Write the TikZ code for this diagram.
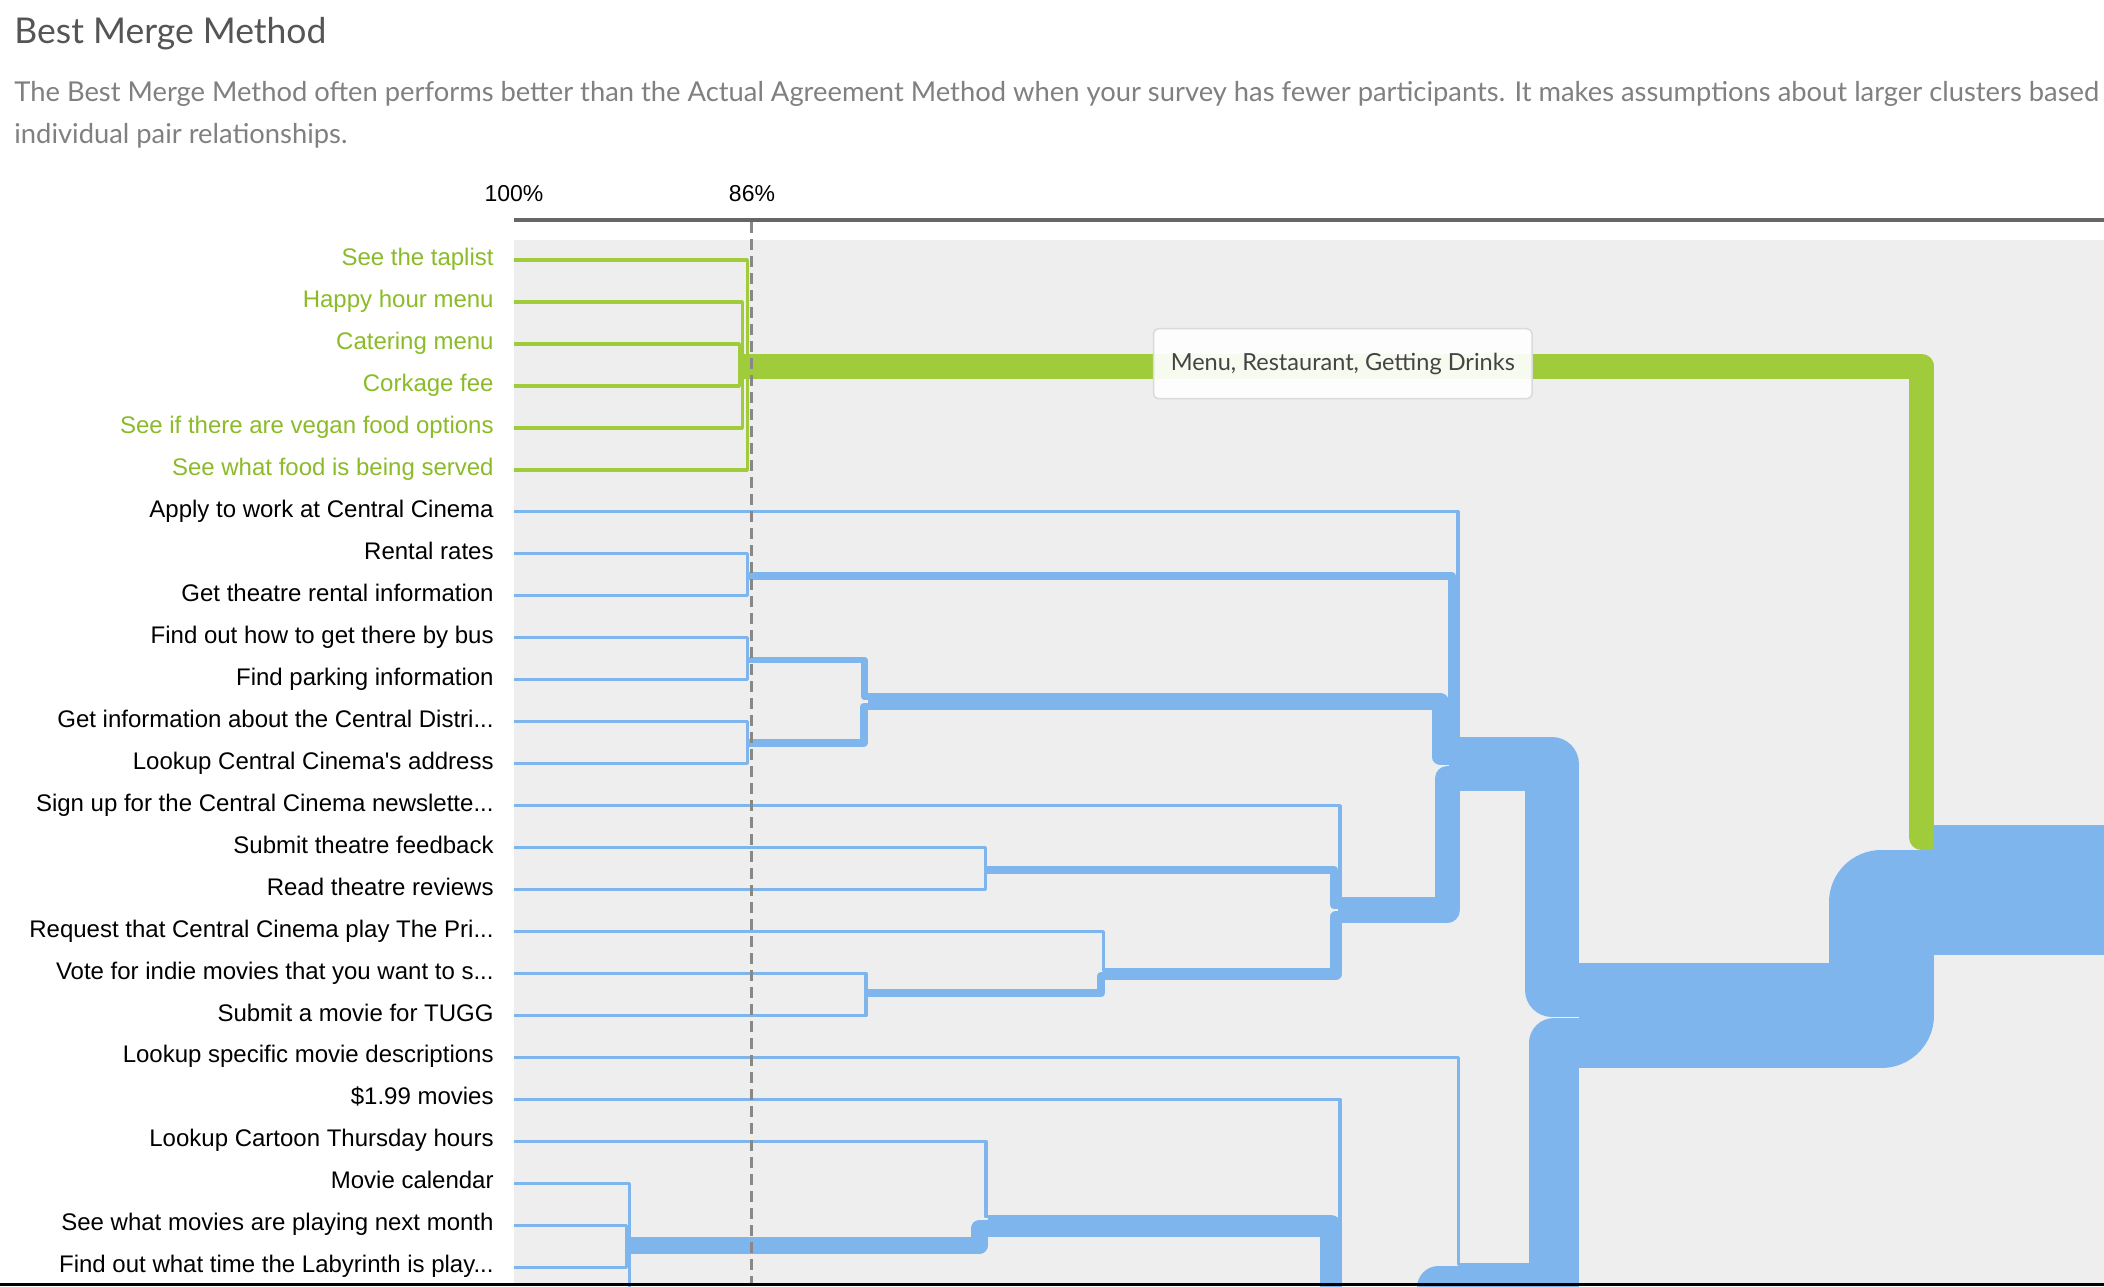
\documentclass[tikz,border=0pt]{standalone}
\usepackage{graphicx}
\usepackage{fontspec}
\setmainfont{Liberation Sans}
\newfontfamily\lato{Lato}
\definecolor{bl}{RGB}{126,181,236}
\definecolor{gr}{RGB}{160,203,58}
\definecolor{grtext}{RGB}{140,187,41}
\definecolor{bggray}{RGB}{238,238,238}
\definecolor{axisgray}{RGB}{102,102,102}
\definecolor{dashgray}{RGB}{136,136,136}
\definecolor{titlegray}{RGB}{85,85,85}
\definecolor{descgray}{RGB}{128,128,128}
\definecolor{boxborder}{RGB}{218,218,218}
\definecolor{boxtext}{RGB}{68,68,68}
\newlength\dw
% link: width, x start, y child, x merge, y slot
\newcommand\lnk[6][bl]{%
  \pgfmathsetmacro\lw{#2*0.5}%
  \pgfmathsetmacro\xv{#5-#2/2}%
  \draw[#1,line width=\lw pt,line join=round] (#3,#4) -- (\xv,#4) -- (\xv,#6) -- (#5,#6);}
\newcommand\leaf[4][bl]{\lnk[#1]{3.3}{514}{#2}{#3}{#4}}
\tikzset{
  lbl/.style={anchor=base east, inner sep=0pt, font=\fontsize{12pt}{14pt}\selectfont, text=black},
  glbl/.style={lbl, text=grtext},
  axlbl/.style={anchor=base, inner sep=0pt, font=\fontsize{11.5pt}{13pt}\selectfont, text=black},
}
\begin{document}
\settowidth\dw{\lato\fontsize{10pt}{12pt}\selectfont individual pair relationships.}%
\pgfmathsetmacro\dsz{10*166.5/\dw}%
\begin{tikzpicture}[x=0.5pt,y=-0.5pt]
\useasboundingbox (0,0) rectangle (2104,1286);
\clip (0,0) rectangle (2104,1286);
\fill[white] (0,0) rectangle (2104,1286);

% title and description
\node[anchor=base west, inner sep=0pt, text=titlegray] (title) at (14,43.3)
  {\resizebox{156pt}{!}{\lato Best Merge Method}};
\node[anchor=base west, inner sep=0pt, text=descgray, font=\lato\fontsize{\dsz pt}{\dsz pt}\selectfont] (desc1) at (14,101.7)
  {The Best Merge Method often performs better than the Actual Agreement Method when your survey has fewer participants. It makes assumptions about larger clusters based};
\node[anchor=base west, inner sep=0pt, text=descgray, font=\lato\fontsize{\dsz pt}{\dsz pt}\selectfont] (desc2) at (14,143.3)
  {individual pair relationships.};

% axis
\node[axlbl] (p100) at (514,201.7) {100\%};
\node[axlbl] (p86) at (752,201.7) {86\%};
\draw[axisgray, line width=2pt] (514,220) -- (2104,220);
\fill[bggray] (514,240) rectangle (2104,1286);

% green cluster
\leaf[gr]{260.0}{749}{366}
\leaf[gr]{302.0}{744}{366}
\leaf[gr]{343.9}{741}{366}
\leaf[gr]{385.9}{741}{366}
\leaf[gr]{427.9}{744}{366}
\leaf[gr]{469.9}{749}{366}
\lnk[gr]{25}{739}{366}{1934}{837.5}

% blue upper cluster
\leaf{511.8}{1459.5}{738.7}
\leaf{553.8}{749}{576}
\leaf{595.8}{749}{576}
\lnk{8.3}{749}{576}{1456}{744.5}
\leaf{637.7}{749}{660}
\leaf{679.7}{749}{660}
\lnk{6.7}{749}{660}{867.7}{696.7}
\leaf{721.7}{749}{743}
\leaf{763.6}{749}{743}
\lnk{7.3}{749}{743}{867.7}{706.5}
\lnk{16.7}{867.7}{701.7}{1449}{757}

% blue middle cluster
\leaf{805.6}{1341.7}{899}
\leaf{847.6}{987.3}{869.8}
\leaf{889.6}{987.3}{869.8}
\lnk{8.3}{987.3}{869.8}{1338.3}{904.8}
\leaf{931.5}{1105}{970}
\leaf{973.5}{867.7}{993.3}
\leaf{1015.5}{867.7}{993.3}
\lnk{8}{867.7}{993.3}{1105}{976}
\lnk{11.7}{1105}{974.2}{1341.7}{916.8}
\lnk{25.4}{1338.3}{910}{1460}{778.3}
\lnk{54}{1449}{764}{1579}{990}

% blue lower cluster
\leaf{1057.4}{1460}{1264.4}
\draw[bl, line width=21.5pt, line join=round] (1438.5,1340) -- (1438.5,1287.5) -- (1460,1287.5);
\lnk{50}{1460}{1287.7}{1579}{1043}
\draw[bl, line width=1.65pt, line join=round] (514,1099.4) -- (1340,1099.4) -- (1340,1340);
\leaf{1141.4}{987.6}{1216.7}
\draw[bl, line width=1.65pt, line join=round] (514,1183.3) -- (629.8,1183.3) -- (629.8,1340);
\leaf{1225.3}{628}{1245.6}
\leaf{1267.3}{628}{1245.6}
\lnk{16.7}{628}{1245.6}{987.6}{1228.3}
\draw[bl, line width=10.85pt, line join=round] (987.6,1226) -- (1330.85,1226) -- (1330.85,1340);

% top-level merges
\lnk{105}{1579}{1015.5}{1934}{902}
\fill[bl] (1934,825) rectangle (2104,954.5);

% cluster label box
\node[draw=boxborder, line width=0.75pt, fill=white, fill opacity=0.92, rounded corners=2.5pt,
  minimum width=189.25pt, minimum height=35pt, inner sep=0pt] (box) at (1342.75,363.7) {};
\node[anchor=base, inner sep=0pt, text=boxtext] (boxtxt) at (1342.8,370.8)
  {\resizebox{172pt}{!}{\lato Menu, Restaurant, Getting Drinks}};

% threshold line
\draw[dashgray, line width=1.5pt, dash pattern=on 5.5pt off 3pt] (751.5,222) -- (751.5,1286);

% row labels
\node[glbl] (r0) at (494,265.5) {See the taplist};
\node[glbl] (r1) at (494,307.5) {Happy hour menu};
\node[glbl] (r2) at (494,349.4) {Catering menu};
\node[glbl] (r3) at (494,391.4) {Corkage fee};
\node[glbl] (r4) at (494,433.4) {See if there are vegan food options};
\node[glbl] (r5) at (494,475.4) {See what food is being served};
\node[lbl] (r6) at (494,517.3) {Apply to work at Central Cinema};
\node[lbl] (r7) at (494,559.3) {Rental rates};
\node[lbl] (r8) at (494,601.3) {Get theatre rental information};
\node[lbl] (r9) at (494,643.2) {Find out how to get there by bus};
\node[lbl] (r10) at (494,685.2) {Find parking information};
\node[lbl] (r11) at (494,727.2) {Get information about the Central Distri...};
\node[lbl] (r12) at (494,769.1) {Lookup Central Cinema\textquotesingle s address};
\node[lbl] (r13) at (494,811.1) {Sign up for the Central Cinema newslette...};
\node[lbl] (r14) at (494,853.1) {Submit theatre feedback};
\node[lbl] (r15) at (494,895.1) {Read theatre reviews};
\node[lbl] (r16) at (494,937.0) {Request that Central Cinema play The Pri...};
\node[lbl] (r17) at (494,979.0) {Vote for indie movies that you want to s...};
\node[lbl] (r18) at (494,1021.0) {Submit a movie for TUGG};
\node[lbl] (r19) at (494,1062.9) {Lookup specific movie descriptions};
\node[lbl] (r20) at (494,1104.9) {\$1.99 movies};
\node[lbl] (r21) at (494,1146.9) {Lookup Cartoon Thursday hours};
\node[lbl] (r22) at (494,1188.8) {Movie calendar};
\node[lbl] (r23) at (494,1230.8) {See what movies are playing next month};
\node[lbl] (r24) at (494,1272.8) {Find out what time the Labyrinth is play...};

% bottom edge
\fill[black] (0,1283) rectangle (2104,1286);
\end{tikzpicture}
\end{document}
